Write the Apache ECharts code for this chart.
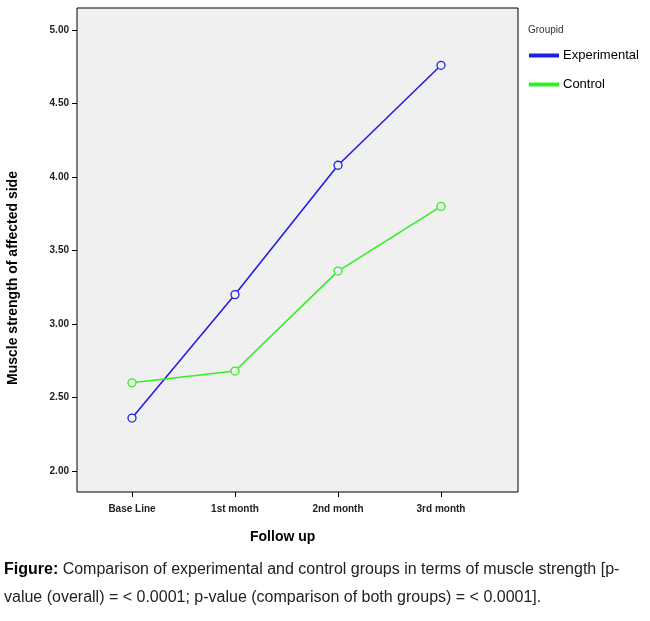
<!DOCTYPE html><html><head><meta charset="utf-8"><script src="https://cdn.jsdelivr.net/npm/echarts@6/dist/echarts.min.js"></script>
<style>body{margin:0;background:#fff}#c{width:650px;height:621px}</style></head><body><div id="c"></div><script>
const categories=['Base Line','1st month','2nd month','3rd month'];
const experimental=[2.36,3.20,4.08,4.76];
const control=[2.60,2.68,3.36,3.80];
const yTicks=[2,5,0.5];
const c=echarts.init(document.getElementById('c'));
c.setOption({animation:false,
grid:{left:132,right:209,top:30,bottom:150},
graphic:[
{type:'rect',z:-10,shape:{x:77,y:8,width:441,height:484},style:{fill:'#f0f0f0',stroke:'#000',lineWidth:1}},
{type:'text',rotation:Math.PI/2,x:6,y:385,style:{text:'Muscle strength of affected side',font:'bold 14px Arial',fill:'#000'}},
{type:'text',x:250,y:530,style:{text:'Follow up',font:'bold 14px Arial',fill:'#000'}},
{type:'text',x:528,y:25,style:{text:'Groupid',font:'10px Arial',fill:'#333'}},
{type:'text',x:4,y:562,style:{rich:{b:{font:'bold 16px Arial',fill:'#000'},n:{font:'16px Arial',fill:'#222'}},text:'{b|Figure:}{n| Comparison of experimental and control groups in terms of muscle strength [p-}'}},
{type:'text',x:4,y:590,style:{text:'value (overall) = < 0.0001; p-value (comparison of both groups) = < 0.0001].',font:'16px Arial',fill:'#222'}}
],
legend:{orient:'vertical',left:524,top:44,itemWidth:28,itemHeight:2,itemGap:16,icon:'rect',textStyle:{fontSize:13,color:'#000',fontFamily:'Arial'},data:['Experimental','Control']},
xAxis:{type:'category',data:categories,boundaryGap:false,offset:21,axisLine:{show:false},axisTick:{alignWithLabel:true,length:5,lineStyle:{color:'#000'}},axisLabel:{fontSize:10,fontWeight:'bold',color:'#222',margin:12,fontFamily:'Arial'}},
yAxis:{type:'value',min:yTicks[0],max:yTicks[1],interval:yTicks[2],offset:55,axisLine:{show:false},axisTick:{show:true,length:5,lineStyle:{color:'#000'}},splitLine:{show:false},axisLabel:{formatter:v=>v.toFixed(2),fontSize:10,fontWeight:'bold',color:'#222',fontFamily:'Arial'}},
series:[
{name:'Experimental',type:'line',data:experimental,symbol:'circle',symbolSize:8,color:'#2020e0',itemStyle:{color:'#f0f0f0',borderColor:'#2020e0',borderWidth:1.3},lineStyle:{color:'#2020e0',width:1.6}},
{name:'Control',type:'line',data:control,symbol:'circle',symbolSize:8,color:'#33ee22',itemStyle:{color:'#f0f0f0',borderColor:'#33ee22',borderWidth:1.3},lineStyle:{color:'#33ee22',width:1.6}}
]});
</script></body></html>
